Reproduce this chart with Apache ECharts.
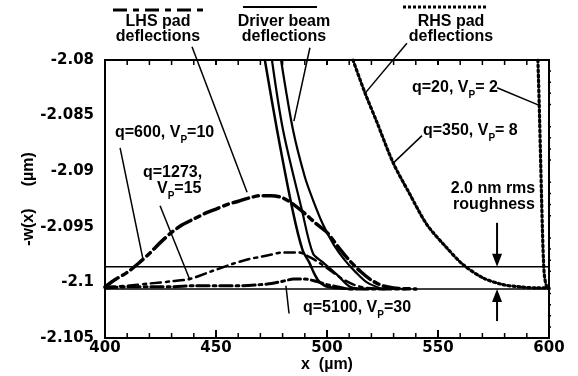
<!DOCTYPE html>
<html>
<head>
<meta charset="utf-8">
<title>-w(x) pad and driver beam deflections</title>
<script src="https://cdn.jsdelivr.net/npm/echarts@6/dist/echarts.min.js"></script>
<style>
  html, body { margin: 0; padding: 0; background: #fff; }
  #main { width: 578px; height: 376px; }
</style>
</head>
<body>
<div id="main"></div>
<script>
  // axis ticks (x in um, -w(x) in um)
  var xTicks = [400, 450, 500, 550, 600];
  var yTicks = [-2.105, -2.1, -2.095, -2.09, -2.085, -2.08];

  // LHS pad, q=600, Vp=10
  var lhs600X = [400, 405, 410, 415, 420, 425, 430, 435, 440, 445, 450, 455, 460, 465, 470, 475, 480, 485, 490, 495, 500, 505, 510, 515, 520, 525, 530, 540];
  var lhs600Y = [-2.1004, -2.0997, -2.0991, -2.0983, -2.0974, -2.0964, -2.0955, -2.0948, -2.0943, -2.0938, -2.0934, -2.0930, -2.0927, -2.0924, -2.0922, -2.0922, -2.0924, -2.0930, -2.0938, -2.0947, -2.0955, -2.0968, -2.0980, -2.0990, -2.0998, -2.1003, -2.1005, -2.1006];
  // LHS pad, q=1273, Vp=15
  var lhs1273X = [400, 410, 420, 430, 438, 448, 458, 465, 470, 475, 480, 487, 492, 497, 502, 507, 512, 518, 528];
  var lhs1273Y = [-2.1004, -2.1003, -2.1001, -2.0999, -2.0997, -2.0990, -2.0983, -2.0979, -2.0977, -2.0975, -2.0973, -2.0973, -2.0977, -2.0983, -2.0990, -2.0997, -2.1002, -2.1005, -2.1006];
  // LHS pad, q=5100, Vp=30
  var lhs5100X = [400, 410, 420, 430, 440, 450, 460, 470, 475, 480, 485, 490, 495, 500, 505, 510, 520, 535];
  var lhs5100Y = [-2.1005, -2.1004, -2.1004, -2.1004, -2.1003, -2.1003, -2.1003, -2.1002, -2.1001, -2.0999, -2.0997, -2.0997, -2.0999, -2.1002, -2.1004, -2.1006, -2.1006, -2.1006];

  // driver beam
  var beam1X = [472, 477.5, 484.5, 489, 492, 494, 496, 499, 504, 512];
  var beam1Y = [-2.0800, -2.0863, -2.0935, -2.0971, -2.0982, -2.0991, -2.0998, -2.1003, -2.1005, -2.1006];
  var beam2X = [475.2, 480.2, 488.7, 493.7, 498.2, 504.5, 510.4, 518];
  var beam2Y = [-2.0800, -2.0863, -2.0935, -2.0974, -2.0982, -2.0993, -2.1004, -2.1006];
  var beam3X = [479.3, 484.7, 490, 493.7, 498.2, 503, 508, 513, 518, 525];
  var beam3Y = [-2.0800, -2.0863, -2.0905, -2.0926, -2.0948, -2.0966, -2.0980, -2.0991, -2.1000, -2.1006];

  // RHS pad, q=350, Vp=8
  var rhs350X = [511.7, 517, 522.5, 529.7, 537.4, 545, 554, 561.3, 570.3, 579.3, 587, 594.6, 600];
  var rhs350Y = [-2.0800, -2.0829, -2.0856, -2.0892, -2.0921, -2.0948, -2.0969, -2.0984, -2.0996, -2.1002, -2.1004, -2.1005, -2.1005];
  // RHS pad, q=20, Vp=2
  var rhs20X = [595.0, 595.6, 596.1, 596.6, 597.0, 597.5, 598.0, 599.0, 600];
  var rhs20Y = [-2.0800, -2.0840, -2.0880, -2.0920, -2.0950, -2.0980, -2.0995, -2.1004, -2.1006];

  // 2.0 nm rms roughness band
  var roughY = [-2.0986, -2.1006];

  function pairs(xs, ys) {
    return xs.map(function (x, i) { return [x, ys[i]]; });
  }

  function curve(xs, ys, width, dash) {
    return {
      type: 'line',
      xAxisIndex: 0, yAxisIndex: 0,
      data: pairs(xs, ys),
      symbol: 'none',
      smooth: 0.3,
      lineStyle: { color: '#000', width: width, type: dash, cap: 'round' },
      z: 3
    };
  }

  var series = [
    curve(lhs600X, lhs600Y, 3.5, [16, 5, 5, 5]),
    curve(lhs1273X, lhs1273Y, 2.5, [10, 5, 3, 5]),
    curve(lhs5100X, lhs5100Y, 3, [12, 4, 3, 4]),
    curve(beam1X, beam1Y, 2.5, 'solid'),
    curve(beam2X, beam2Y, 2.2, 'solid'),
    curve(beam3X, beam3Y, 2.2, 'solid'),
    curve(rhs350X, rhs350Y, 3.2, [2, 3]),
    curve(rhs20X, rhs20Y, 3.2, [2, 3])
  ];
  roughY.forEach(function (y) {
    series.push({
      type: 'line',
      xAxisIndex: 0, yAxisIndex: 0,
      data: [[xTicks[0], y], [xTicks[xTicks.length - 1], y]],
      symbol: 'none',
      lineStyle: { color: '#000', width: 1.5 },
      z: 2
    });
  });

  var tickFont = { color: '#000', fontFamily: 'DejaVu Sans', fontWeight: 'bold', fontSize: 15 };
  var nameFont = { color: '#000', fontFamily: '"Liberation Sans", Arial', fontWeight: 'bold', fontSize: 16 };
  var xLo = xTicks[0], xHi = xTicks[xTicks.length - 1];
  var yLo = yTicks[0], yHi = yTicks[yTicks.length - 1];

  // wanted plot rectangle in page pixels
  var box = { left: 105, right: 549, top: 60, bottom: 338 };

  function side(extra) {
    return Object.assign({
      type: 'value',
      axisLine: { show: true, lineStyle: { color: '#000', width: 2 } },
      axisTick: { show: false },
      minorTick: { show: false },
      axisLabel: { show: false },
      splitLine: { show: false }
    }, extra);
  }

  var gridOpt = { left: box.left, right: 578 - box.right, top: box.top, bottom: 376 - box.bottom, containLabel: false, outerBoundsMode: 'none' };

  var chart = echarts.init(document.getElementById('main'));
  chart.setOption({
    animation: false,
    backgroundColor: '#fff',
    grid: gridOpt,
    xAxis: [
      side({
        position: 'bottom', min: xLo, max: xHi, interval: 50,
        axisLabel: Object.assign({ show: true, margin: 3 }, tickFont),
        name: 'x  (µm)', nameLocation: 'middle', nameGap: 19, nameMoveOverlap: false, nameTextStyle: nameFont
      }),
      side({ position: 'top', min: xLo, max: xHi, interval: 50 })
    ],
    yAxis: [
      side({
        position: 'left', min: yLo, max: yHi, interval: 0.005,
        axisLabel: Object.assign({
          show: true, margin: 11,
          formatter: function (v) { return String(parseFloat(v.toFixed(3))); }
        }, tickFont),
        name: '-w(x)     (µm)', nameLocation: 'middle', nameRotate: 90, nameGap: 68, nameMoveOverlap: false, nameTextStyle: nameFont
      }),
      side({ position: 'right', min: yLo, max: yHi, interval: 0.005 })
    ],
    series: series
  });

  function toPx(p) { return chart.convertToPixel({ gridIndex: 0 }, p); }

  // pull the plot rectangle back to the wanted place if the layout moved it
  for (var pass = 0; pass < 3; pass++) {
    var a = toPx([xLo, yLo]), b = toPx([xHi, yHi]);
    var dl = box.left - a[0], dr = b[0] - box.right, dt = box.top - b[1], db = a[1] - box.bottom;
    if (Math.abs(dl) + Math.abs(dr) + Math.abs(dt) + Math.abs(db) < 0.5) break;
    gridOpt.left += dl; gridOpt.right += dr; gridOpt.top += dt; gridOpt.bottom += db;
    chart.setOption({ grid: gridOpt });
  }

  // tick marks as line segments on the axes' own scales
  var c0 = toPx([xLo, yLo]), c1 = toPx([xHi, yHi]);
  var perX = (c1[0] - c0[0]) / (xHi - xLo);
  var perY = (c0[1] - c1[1]) / (yHi - yLo);

  function minors(ticks) {
    var out = [];
    for (var i = 0; i < ticks.length - 1; i++) {
      var step = (ticks[i + 1] - ticks[i]) / 5;
      for (var k = 1; k < 5; k++) out.push(ticks[i] + k * step);
    }
    return out;
  }
  function tickSeries(values, lenPx, width) {
    var d = [];
    values.forEach(function (v) {
      d.push([v, yLo], [v, yLo + lenPx / perY], null);          // bottom, inward
      d.push([v, yHi], [v, yHi - 5 / perY], null);              // top, inward
    });
    return { type: 'line', data: d, symbol: 'none', clip: false, connectNulls: false, silent: true,
      lineStyle: { color: '#000', width: width }, z: 5 };
  }
  function yTickSeries(values, lenPx, width) {
    var d = [];
    values.forEach(function (v) {
      d.push([xLo, v], [xLo - lenPx / perX, v], null);          // left, outward
      d.push([xHi, v], [xHi + lenPx / perX, v], null);          // right, outward
    });
    return { type: 'line', data: d, symbol: 'none', clip: false, connectNulls: false, silent: true,
      lineStyle: { color: '#000', width: width }, z: 5 };
  }
  var allSeries = series.concat([
    tickSeries(xTicks, 8, 2),
    tickSeries(minors(xTicks), 5, 1.5),
    yTickSeries(yTicks, 8, 2),
    yTickSeries(minors(yTicks), 5, 1.5)
  ]);

  function seg(p, q, width, dash) {
    return {
      type: 'line', z: 10,
      shape: { x1: p[0], y1: p[1], x2: q[0], y2: q[1] },
      style: { stroke: '#000', lineWidth: width || 1.5, lineDash: dash || null }
    };
  }

  var g = [];

  // annotations: leader lines in data units, text in page pixels
  var leaders = [
    [[439.2, -2.0788], [464.0, -2.0919]],   // LHS pad deflections
    [[492.3, -2.0789], [485.1, -2.0855]],   // Driver beam deflections
    [[536.0, -2.0785], [517.1, -2.0830]],   // RHS pad deflections
    [[406.8, -2.0879], [417.1, -2.0979]],   // q=600
    [[424.8, -2.0931], [438.3, -2.0998]],   // q=1273
    [[576.6, -2.0825], [595.9, -2.0841]],   // q=20
    [[542.8, -2.0868], [529.7, -2.0893]],   // q=350
    [[482.9, -2.1028], [481.5, -2.1003]]    // q=5100
  ];
  var arrowX = 576.6;
  leaders.forEach(function (l) { g.push(seg(toPx(l[0]), toPx(l[1]))); });

  // roughness arrows
  var upper = toPx([arrowX, roughY[0]]);
  var lower = toPx([arrowX, roughY[1]]);
  g.push(seg([upper[0], upper[1] - 44], [upper[0], upper[1] - 12], 2));
  g.push({ type: 'polygon', z: 10, shape: { points: [[upper[0] - 5, upper[1] - 13], [upper[0] + 5, upper[1] - 13], [upper[0], upper[1]]] }, style: { fill: '#000' } });
  g.push(seg([lower[0], lower[1] + 12], [lower[0], lower[1] + 32], 2));
  g.push({ type: 'polygon', z: 10, shape: { points: [[lower[0] - 5, lower[1] + 13], [lower[0] + 5, lower[1] + 13], [lower[0], lower[1]]] }, style: { fill: '#000' } });

  // line samples above the frame
  g.push(seg([113, 10], [205, 10], 3, [14, 6, 6, 6]));
  g.push(seg([243, 7], [317, 7], 2));
  g.push(seg([403, 7], [488, 7], 3, [3, 2]));

  var rich = {
    s: { fontFamily: '"Liberation Sans", Arial', fontWeight: 'bold', fontSize: 10, verticalAlign: 'bottom' }
  };
  function label(x, y, text, align) {
    return {
      type: 'text', x: x, y: y, z: 10,
      style: {
        text: text, fill: '#000',
        font: 'bold 16px "Liberation Sans", Arial, sans-serif',
        align: align || 'left', textAlign: align || 'left',
        verticalAlign: 'middle', textVerticalAlign: 'middle',
        lineHeight: 24, rich: rich
      }
    };
  }
  g.push(label(158, 22, 'LHS pad', 'center'));
  g.push(label(158, 37, 'deflections', 'center'));
  g.push(label(284, 22, 'Driver beam', 'center'));
  g.push(label(284, 37, 'deflections', 'center'));
  g.push(label(451, 22, 'RHS pad', 'center'));
  g.push(label(451, 37, 'deflections', 'center'));
  g.push(label(115, 133, 'q=600, V{s|P}=10'));
  g.push(label(143, 173, 'q=1273,'));
  g.push(label(157, 189, 'V{s|P}=15'));
  g.push(label(412, 88, 'q=20, V{s|P}= 2'));
  g.push(label(423, 131, 'q=350, V{s|P}= 8'));
  g.push(label(493, 189, '2.0 nm rms', 'center'));
  g.push(label(494, 205, 'roughness', 'center'));
  g.push(label(303, 308, 'q=5100, V{s|P}=30'));

  chart.setOption({ series: allSeries, graphic: g });
</script>
</body>
</html>
